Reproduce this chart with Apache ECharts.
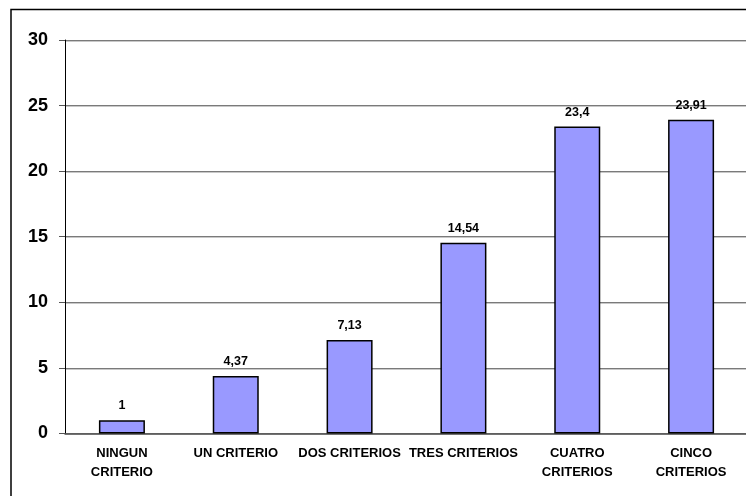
<!DOCTYPE html>
<html>
<head>
<meta charset="utf-8">
<script src="https://cdn.jsdelivr.net/npm/echarts@6/dist/echarts.min.js"></script>
<style>
  html, body { margin: 0; padding: 0; background: #fff; }
  #chart { width: 746px; height: 496px; }
</style>
</head>
<body>
<div id="chart"></div>
<script>
// categorias y valores
const categorias = ['NINGUN\nCRITERIO', 'UN CRITERIO', 'DOS CRITERIOS', 'TRES CRITERIOS', 'CUATRO\nCRITERIOS', 'CINCO\nCRITERIOS']
const valores = [1, 4.37, 7.13, 14.54, 23.4, 23.91]
const ticksY = [0, 5, 10, 15, 20, 25, 30]

const fuente = '"Liberation Sans", Arial, sans-serif'
const myChart = echarts.init(document.getElementById('chart'))

const options = {
  animation: false,
  textStyle: { fontFamily: fuente },
  graphic: [{
    // marco exterior (solo se ven el borde superior e izquierdo)
    type: 'rect',
    shape: { x: 11, y: 9.5, width: 800, height: 600 },
    style: { fill: 'none', stroke: '#000', lineWidth: 1.5 },
    silent: true
  }],
  grid: {
    left: 65,
    right: -2,
    top: 40,
    bottom: 62.6,
    containLabel: false,
    outerBoundsMode: 'none'
  },
  xAxis: {
    type: 'category',
    data: categorias,
    axisLine: { lineStyle: { color: '#555', width: 1.5 } },
    axisTick: { length: 5, lineStyle: { color: '#333' } },
    axisLabel: {
      interval: 0,
      margin: 11,
      color: '#000',
      fontWeight: 'bold',
      fontSize: 13,
      lineHeight: 19,
      fontFamily: fuente
    }
  },
  yAxis: {
    type: 'value',
    min: ticksY[0],
    max: ticksY[ticksY.length - 1],
    interval: 5,
    axisLine: { show: true, lineStyle: { color: '#000', width: 1 } },
    axisTick: { show: true, length: 6, lineStyle: { color: '#555' } },
    axisLabel: {
      margin: 17,
      color: '#000',
      fontWeight: 'bold',
      fontSize: 18,
      fontFamily: fuente
    },
    splitLine: {
      lineStyle: {
        color: '#7a7a7a',
        width: 1,
        shadowColor: '#c8c8c8',
        shadowOffsetY: 1
      }
    }
  },
  series: [
    {
      type: 'bar',
      data: valores,
      barWidth: 46,
      itemStyle: {
        color: '#9999ff',
        borderColor: '#000',
        borderWidth: 1.5
      },
      label: {
        show: true,
        position: 'top',
        distance: 8,
        color: '#000',
        fontWeight: 'bold',
        fontSize: 12.5,
        fontFamily: fuente,
        formatter: function (p) {
          return String(p.value).replace('.', ',')
        }
      }
    }
  ]
}

myChart.setOption(options)
</script>
</body>
</html>
